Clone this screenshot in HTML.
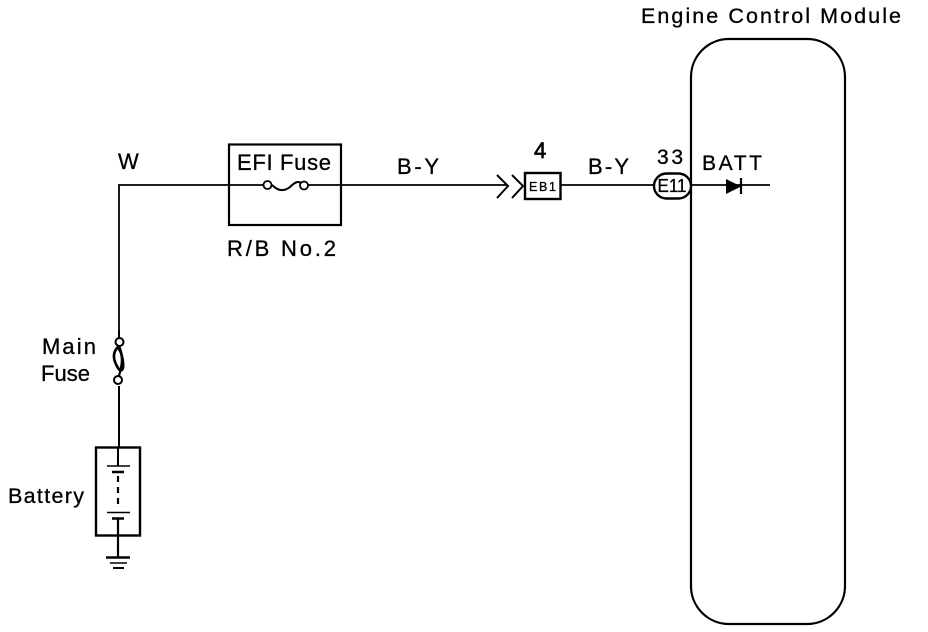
<!DOCTYPE html>
<html><head><meta charset="utf-8"><style>
html,body{margin:0;padding:0;background:#fff}
svg{display:block}
text{font-family:"Liberation Sans",sans-serif;fill:#000;stroke:#000;stroke-width:.3px}
</style></head><body>
<svg width="928" height="632" viewBox="0 0 928 632" xmlns="http://www.w3.org/2000/svg">
<g fill="none" stroke="#000">
<rect x="691" y="39" width="154" height="585" rx="38" ry="38" stroke-width="2.200"/>
<path d="M119 330V185H229" stroke-width="1.800"/>
<path d="M119 386V448" stroke-width="2"/>
<path d="M119 330V338" stroke-width="2"/>
<rect x="229" y="144.500" width="112" height="80.500" stroke-width="2.200"/>
<path d="M229 185H263M308 185H506M561 185H654M691 185H770" stroke-width="1.800"/>
<path d="M272 185C279 192 285 191 290 187C295 182 298 181 301 183" stroke-width="2"/>
<circle cx="267.500" cy="185" r="4" fill="#fff" stroke-width="1.800"/>
<circle cx="304" cy="185.500" r="4" fill="#fff" stroke-width="1.800"/>
<path d="M497 175L508 186L497 198M512 175L523 186L512 198" stroke-width="2"/>
<rect x="525" y="173" width="35.500" height="26" stroke-width="2.400"/>
<rect x="654" y="173.500" width="37" height="25" rx="12.500" ry="12.500" fill="#fff" stroke-width="2.400"/>
<path d="M741 178V194" stroke-width="2.200"/>
<path d="M726 179L741 186.500L726 194Z" fill="#000" stroke="none"/>
<path d="M119 346C112 352 113 360 118 368C121 373 124 370 123 362C122 354 120 349 119 346Z" stroke-width="2.600"/>
<path d="M118 348C123 354 123 362 119 376" stroke-width="2.200"/>
<circle cx="119.500" cy="342" r="4" fill="#fff" stroke-width="2"/>
<circle cx="118" cy="380" r="4" fill="#fff" stroke-width="2"/>
<rect x="96" y="447.500" width="44" height="88" stroke-width="2.400"/>
<path d="M118 448V466" stroke-width="2"/>
<path d="M107 466H130M107 512.500H130" stroke-width="1.600"/>
<path d="M112 472H124M112 518.500H124" stroke-width="2.400"/>
<path d="M118 476V508" stroke-width="2.200" stroke-dasharray="6 5"/>
<path d="M118 518V558" stroke-width="2.200"/>
<path d="M106 557.500H130" stroke-width="2.400"/>
<path d="M110 563H127" stroke-width="1.500"/>
<path d="M113 568H124" stroke-width="2"/>
</g>
<text x="641" y="23" font-size="21.500" textLength="260">Engine Control Module</text>
<text x="118" y="169" font-size="22">W</text>
<text x="237" y="170" font-size="22" textLength="94">EFI Fuse</text>
<text x="397" y="174" font-size="22" textLength="42">B-Y</text>
<text x="227" y="256" font-size="22" textLength="109">R/B No.2</text>
<text x="534" y="158" font-size="22" style="stroke-width:.7px">4</text>
<text x="588" y="174" font-size="22" textLength="41">B-Y</text>
<text x="657" y="164" font-size="21" textLength="26">33</text>
<text x="702" y="170" font-size="21" textLength="60">BATT</text>
<text x="529" y="191" font-size="12.500" textLength="27">EB1</text>
<text x="657.500" y="192" font-size="18" textLength="29" lengthAdjust="spacingAndGlyphs">E11</text>
<text x="42" y="354" font-size="22" textLength="54">Main</text>
<text x="41" y="381" font-size="22" textLength="49">Fuse</text>
<text x="8" y="503" font-size="21.500" textLength="76">Battery</text>
</svg>
</body></html>
